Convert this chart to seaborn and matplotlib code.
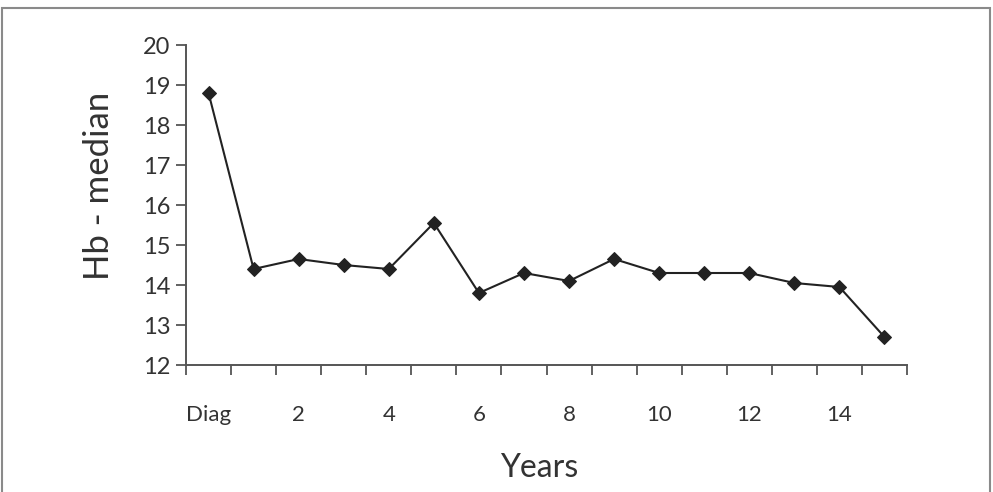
import matplotlib
matplotlib.use("Agg")
import matplotlib.pyplot as plt
import seaborn as sns
import numpy as np
from matplotlib.patches import Rectangle
from matplotlib.ticker import FixedLocator, MultipleLocator

categories = ["Diag", "1", "2", "3", "4", "5", "6", "7", "8", "9", "10", "11", "12", "13", "14", "15"]
hb_median = [18.8, 14.4, 14.65, 14.5, 14.4, 15.55, 13.8, 14.3, 14.1, 14.65, 14.3, 14.3, 14.3, 14.05, 13.95, 12.7]
shown_labels = ["Diag", "", "2", "", "4", "", "6", "", "8", "", "10", "", "12", "", "14", ""]

sns.set_style("white")
plt.rcParams['font.family'] = ['Lato', 'DejaVu Sans']

fig = plt.figure(figsize=(9.93, 4.92), dpi=100)
ax = fig.add_axes([186/993, 1-365/492, 721/993, 320/492])

pos = np.arange(len(categories))
sns.lineplot(x=pos, y=hb_median, ax=ax, color="#222222", linewidth=1.5,
             marker="D", markersize=7, markeredgecolor="#222222", markerfacecolor="#222222")

ax.set_xlim(-0.5, len(categories) - 0.5)
ax.set_ylim(12, 20)
ax.yaxis.set_major_locator(MultipleLocator(1))

ax.set_xticks(pos)
ax.set_xticklabels(shown_labels)
ax.xaxis.set_minor_locator(FixedLocator(np.arange(-0.5, len(categories), 1.0)))
ax.tick_params(axis="x", which="major", length=0, pad=29, labelsize=16, labelcolor="#333333")
ax.tick_params(axis="x", which="minor", length=7, width=1.3, color="#555555", direction="out", bottom=True)
ax.tick_params(axis="y", which="major", length=7, width=1.3, color="#555555", direction="out", left=True,
               labelsize=17, labelcolor="#333333", pad=4)

for s in ["top", "right"]:
    ax.spines[s].set_visible(False)
for s in ["left", "bottom"]:
    ax.spines[s].set_color("#555555")
    ax.spines[s].set_linewidth(1.4)

ax.set_ylabel("Hb - median", fontsize=25, color="#333333")
ax.yaxis.set_label_coords(-0.098, 0.56)
ax.set_xlabel("Years", fontsize=23, color="#333333")
ax.xaxis.set_label_coords(0.49, -0.275)

fig.patches.append(Rectangle((2/993, -0.01), 988/993, 1 - 8/492 + 0.01, transform=fig.transFigure,
                             fill=False, edgecolor="#8a8a8a", linewidth=1.5))

fig.savefig("out.png", dpi=100)
